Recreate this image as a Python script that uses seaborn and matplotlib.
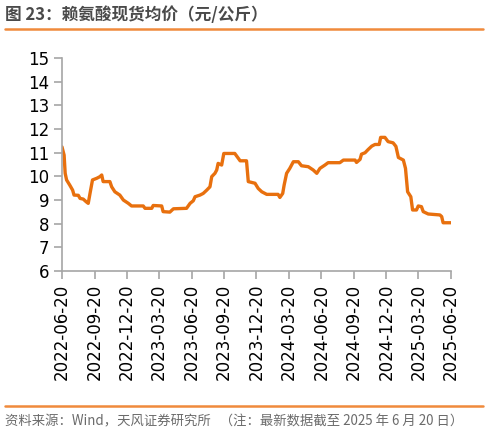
import matplotlib
matplotlib.use("Agg")
import matplotlib.pyplot as plt
import seaborn as sns
import pandas as pd

# ---- data ----
dates = [
    "2022-06-20", "2022-06-26", "2022-06-29", "2022-07-03", "2022-07-12", "2022-07-20",
    "2022-07-24", "2022-08-05", "2022-08-10", "2022-08-19", "2022-08-27", "2022-09-02",
    "2022-09-07", "2022-09-14", "2022-09-26", "2022-10-05", "2022-10-10", "2022-10-14",
    "2022-11-02", "2022-11-07", "2022-11-16", "2022-11-30", "2022-12-10", "2022-12-24",
    "2023-01-02", "2023-02-04", "2023-02-09", "2023-02-28", "2023-03-04", "2023-03-28",
    "2023-04-01", "2023-04-20", "2023-04-30", "2023-06-06", "2023-06-16", "2023-06-25",
    "2023-06-30", "2023-07-14", "2023-07-23", "2023-08-02", "2023-08-11", "2023-08-16",
    "2023-08-25", "2023-08-30", "2023-09-03", "2023-09-13", "2023-09-19", "2023-10-20",
    "2023-11-04", "2023-11-22", "2023-11-27", "2023-12-16", "2023-12-25", "2024-01-04",
    "2024-01-18", "2024-02-19", "2024-02-24", "2024-03-03", "2024-03-07", "2024-03-14",
    "2024-03-23", "2024-04-02", "2024-04-16", "2024-04-25", "2024-05-14", "2024-05-28",
    "2024-06-07", "2024-06-16", "2024-06-30", "2024-07-09", "2024-08-11", "2024-08-21",
    "2024-09-23", "2024-09-27", "2024-10-07", "2024-10-11", "2024-10-21", "2024-10-30",
    "2024-11-09", "2024-11-18", "2024-11-30", "2024-12-04", "2024-12-16", "2024-12-25",
    "2025-01-08", "2025-01-16", "2025-01-23", "2025-02-06", "2025-02-12", "2025-02-18",
    "2025-02-27", "2025-03-04", "2025-03-15", "2025-03-20", "2025-03-29", "2025-04-03",
    "2025-04-17", "2025-05-20", "2025-05-25", "2025-05-29", "2025-06-20",
]
prices = [
    11.25, 10.90, 10.13, 9.85, 9.63, 9.42,
    9.21, 9.20, 9.07, 9.04, 8.93, 8.86,
    9.28, 9.85, 9.92, 9.99, 10.06, 9.78,
    9.78, 9.56, 9.35, 9.21, 9.00, 8.86,
    8.75, 8.75, 8.65, 8.65, 8.77, 8.75,
    8.51, 8.49, 8.63, 8.65, 8.86, 8.97,
    9.14, 9.21, 9.28, 9.42, 9.56, 9.99,
    10.13, 10.27, 10.55, 10.48, 10.97, 10.97,
    10.66, 10.66, 9.78, 9.71, 9.49, 9.35,
    9.24, 9.24, 9.11, 9.28, 9.63, 10.13,
    10.34, 10.62, 10.62, 10.45, 10.41, 10.27,
    10.13, 10.34, 10.48, 10.58, 10.58, 10.69,
    10.69, 10.59, 10.72, 10.94, 11.00, 11.14,
    11.28, 11.35, 11.35, 11.65, 11.65, 11.47,
    11.42, 11.27, 10.80, 10.69, 10.34, 9.35,
    9.14, 8.58, 8.58, 8.75, 8.72, 8.51,
    8.41, 8.37, 8.30, 8.04, 8.04,
]
tick_dates = [
    "2022-06-20", "2022-09-20", "2022-12-20", "2023-03-20", "2023-06-20",
    "2023-09-20", "2023-12-20", "2024-03-20", "2024-06-20", "2024-09-20",
    "2024-12-20", "2025-03-20", "2025-06-20",
]
y_ticks = [6, 7, 8, 9, 10, 11, 12, 13, 14, 15]

title = "图 23：赖氨酸现货均价（元/公斤）"
footer = "资料来源：Wind，天风证券研究所   （注：最新数据截至 2025 年 6 月 20 日）"

# ---- styling ----
sns.set_theme(style="white")
plt.rcParams["font.family"] = ["Noto Sans CJK SC", "DejaVu Sans"]

df = pd.DataFrame({"date": pd.to_datetime(dates), "price": prices})

fig = plt.figure(figsize=(4.88, 4.34), dpi=100)
ax = fig.add_axes([0.127, 0.3756, 0.797, 0.4904])

sns.lineplot(data=df, x="date", y="price", ax=ax, color="#E8700E", linewidth=2.4)

ax.set_ylim(6, 15)
ax.set_yticks(y_ticks)
ax.set_yticklabels([str(v) for v in y_ticks])
tks = pd.to_datetime(tick_dates)
ax.set_xlim(tks[0], tks[-1])
ax.set_xticks(tks)
ax.set_xticklabels(tick_dates, rotation=90)
ax.set_xlabel("")
ax.set_ylabel("")

spine_col = "#A6A6A6"
for s in ["top", "right"]:
    ax.spines[s].set_visible(False)
for s in ["left", "bottom"]:
    ax.spines[s].set_color(spine_col)
    ax.spines[s].set_linewidth(1.2)
ax.tick_params(axis="both", which="major", length=6, width=1.2, color=spine_col,
               labelsize=12, labelcolor="#000000", pad=3)
ax.tick_params(axis="x", direction="out", bottom=True)
ax.tick_params(axis="y", direction="out", left=True)
for lab in ax.get_xticklabels() + ax.get_yticklabels():
    lab.set_family(["DejaVu Sans"])

# title, rules and footer
fig.text(0.010, 0.966, title, ha="left", va="center", fontsize=12,
         fontweight="bold", color="#4A4A4A")
line_col = "#F08A3C"
fig.add_artist(plt.Line2D([0.010, 0.989], [0.933, 0.933], color=line_col,
                          linewidth=1.8, transform=fig.transFigure))
fig.add_artist(plt.Line2D([0.010, 0.989], [0.065, 0.065], color=line_col,
                          linewidth=1.8, transform=fig.transFigure))
fig.text(0.010, 0.028, footer, ha="left", va="center", fontsize=9.6,
         color="#6B6B6B")

fig.savefig("out.png", dpi=100)
